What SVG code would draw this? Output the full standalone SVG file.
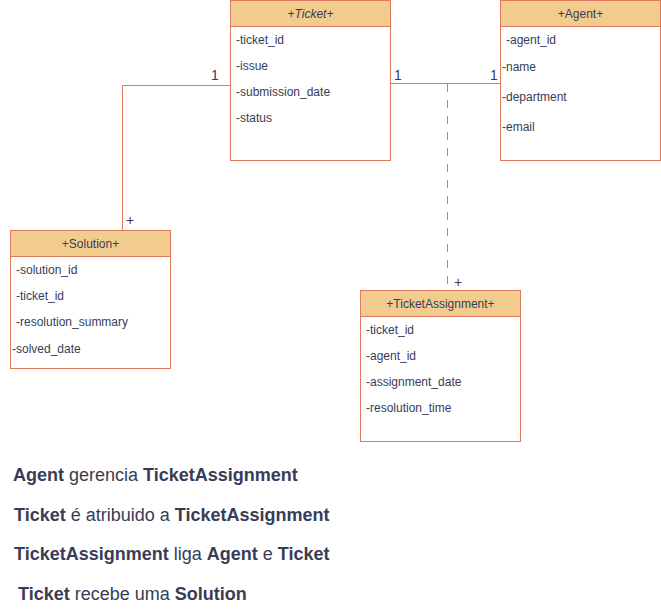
<svg xmlns="http://www.w3.org/2000/svg" width="661" height="616" viewBox="0 0 661 616">
<style>
.box{fill:#ffffff;stroke:#E07A5F;stroke-width:1}
.hdr{fill:#F2CC8F;stroke:#E07A5F;stroke-width:1}
.t{font-family:"Liberation Sans",Arial,sans-serif;font-size:12px;fill:#393C56}
.h{font-family:"Liberation Sans",Arial,sans-serif;font-size:12px;fill:#393C56;text-anchor:middle}
.lbl{font-family:"Liberation Sans",Arial,sans-serif;font-size:14px;fill:#393C56}
.ln{fill:none;stroke:#E07A5F;stroke-width:1}
.b{font-family:"Liberation Sans",Arial,sans-serif;font-size:18px;fill:#393C56}
.b tspan.k{font-weight:bold}
</style>
<rect width="661" height="616" fill="#ffffff"/>
<g id="connectors">
<path class="ln" d="M230.5,85.5 H122.5 V230"/>
<path class="ln" d="M390,83.5 H500"/>
<path class="ln" d="M447.5,84 V290" stroke-dasharray="8,8"/>
<text class="lbl" x="211" y="80">1</text>
<text class="lbl" x="126" y="225">+</text>
<text class="lbl" x="394" y="80">1</text>
<text class="lbl" x="490" y="80">1</text>
<text class="lbl" x="454" y="287">+</text>
</g>
<g id="ticket">
<rect class="box" x="230.5" y="0.5" width="160" height="160"/>
<rect class="hdr" x="230.5" y="0.5" width="160" height="26"/>
<text class="h" x="310.5" y="18" font-style="italic">+Ticket+</text>
<text class="t" x="236" y="44">-ticket_id</text>
<text class="t" x="236" y="70">-issue</text>
<text class="t" x="236" y="96">-submission_date</text>
<text class="t" x="236" y="122">-status</text>
</g>
<g id="agent">
<rect class="box" x="500.5" y="0.5" width="160" height="160"/>
<rect class="hdr" x="500.5" y="0.5" width="160" height="26"/>
<text class="h" x="580.5" y="18">+Agent+</text>
<text class="t" x="506" y="44">-agent_id</text>
<text class="t" x="502" y="71">-name</text>
<text class="t" x="502" y="101">-department</text>
<text class="t" x="502" y="131">-email</text>
</g>
<g id="solution">
<rect class="box" x="10.5" y="230.5" width="160" height="138"/>
<rect class="hdr" x="10.5" y="230.5" width="160" height="26"/>
<text class="h" x="90.5" y="248">+Solution+</text>
<text class="t" x="16" y="274">-solution_id</text>
<text class="t" x="16" y="300">-ticket_id</text>
<text class="t" x="16" y="326">-resolution_summary</text>
<text class="t" x="12" y="353">-solved_date</text>
</g>
<g id="ticketassignment">
<rect class="box" x="360.5" y="290.5" width="160" height="151"/>
<rect class="hdr" x="360.5" y="290.5" width="160" height="26"/>
<text class="h" x="440.5" y="308">+TicketAssignment+</text>
<text class="t" x="366" y="334">-ticket_id</text>
<text class="t" x="366" y="360">-agent_id</text>
<text class="t" x="366" y="386">-assignment_date</text>
<text class="t" x="366" y="412">-resolution_time</text>
</g>
<g id="notes">
<text class="b" x="13" y="481"><tspan class="k">Agent</tspan> gerencia <tspan class="k">TicketAssignment</tspan></text>
<text class="b" x="14" y="521"><tspan class="k">Ticket</tspan> é atribuido a <tspan class="k">TicketAssignment</tspan></text>
<text class="b" x="14" y="560"><tspan class="k">TicketAssignment</tspan> liga <tspan class="k">Agent</tspan> e <tspan class="k">Ticket</tspan></text>
<text class="b" x="18" y="600"><tspan class="k">Ticket</tspan> recebe uma <tspan class="k">Solution</tspan></text>
</g>
</svg>
